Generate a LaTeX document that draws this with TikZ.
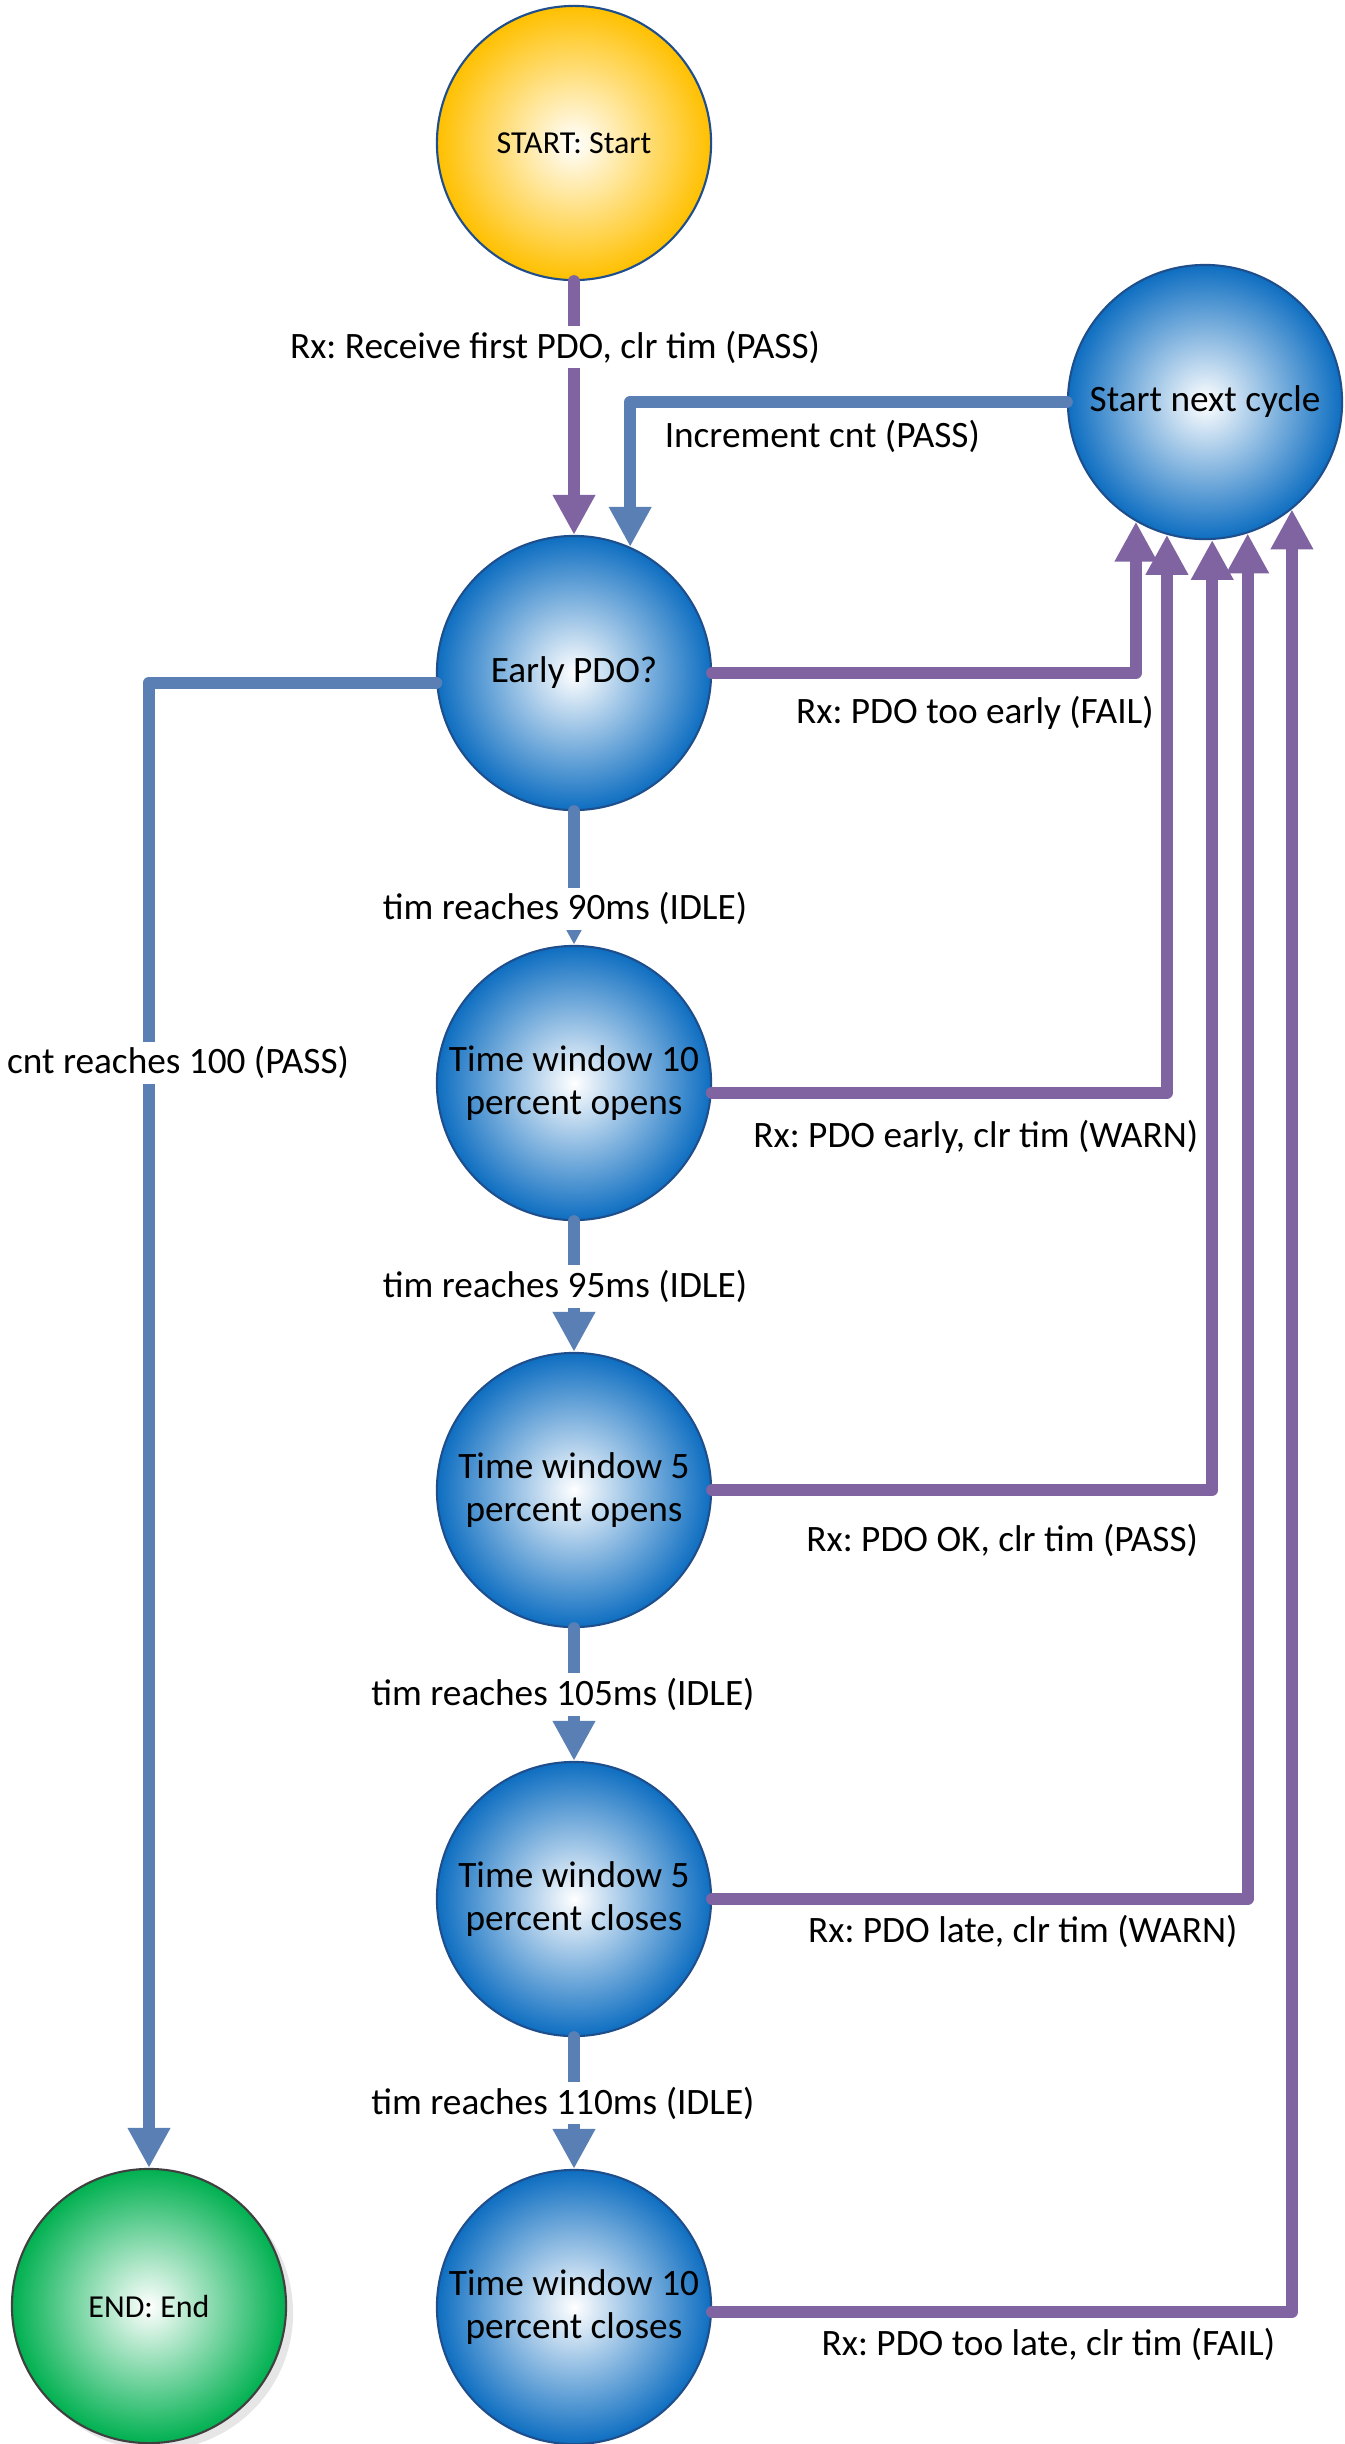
\documentclass[tikz,border=0pt]{standalone}
\usepackage{fontspec}
\setmainfont{Carlito}
\frenchspacing
\usetikzlibrary{arrows.meta,shadows}
\definecolor{ballblue}{HTML}{0E6EC1}
\definecolor{ballgold}{HTML}{FFC000}
\definecolor{ballgreen}{HTML}{00B050}
\definecolor{rimblue}{HTML}{1F4E8C}
\definecolor{linepurple}{HTML}{8064A2}
\definecolor{lineblue}{HTML}{5A7FB5}

\begin{document}
\begin{tikzpicture}[x=0.01cm, y=-0.01cm,
    every node/.style={font=\fontsize{10.6}{12.2}\selectfont},
    state/.style={circle, draw=rimblue, line width=0.6pt, minimum size=2.74cm, inner sep=0pt,
      align=center, inner color=white, outer color=ballblue},
    small/.style={font=\fontsize{9.1}{11}\selectfont},
    tip/.style={line width=0.12cm, line cap=round, line join=round,
      -{Triangle[length=0.4cm, width=0.4cm]}},
    pur/.style={tip, draw=linepurple},
    blu/.style={tip, draw=lineblue},
    lbl/.style={fill=white, inner sep=1.4pt}]
  \useasboundingbox (0,0) rectangle (1345,2444);

  % states
  \node[state, outer color=ballgold, small] (st) at (574,143) {START: Start};
  \node[state] (nc) at (1205,402) {Start next cycle};
  \node[state] (ep) at (574,673) {Early PDO?};
  \node[state] (w10o) at (574,1083) {Time window 10\\percent opens};
  \node[state] (w5o) at (574,1490) {Time window 5\\percent opens};
  \node[state] (w5c) at (574,1899) {Time window 5\\percent closes};
  \node[state] (w10c) at (574,2307) {Time window 10\\percent closes};
  \node[state, draw=black!75, outer color=ballgreen, small,
    drop shadow={opacity=0.2, shadow xshift=2pt, shadow yshift=-2pt}] (en) at (149,2306) {END: End};

  % main column
  \draw[pur] (st) -- node[lbl, pos=0.26, xshift=-0.19cm] {Rx: Receive first PDO, clr tim (PASS)} (ep);
  \draw[blu] (ep) -- node[lbl, pos=0.73, xshift=-0.09cm] {tim reaches 90ms (IDLE)} (w10o);
  \draw[blu] (w10o) -- node[lbl, xshift=-0.09cm] {tim reaches 95ms (IDLE)} (w5o);
  \draw[blu] (w5o) -- node[lbl, xshift=-0.11cm] {tim reaches 105ms (IDLE)} (w5c);
  \draw[blu] (w5c) -- node[lbl, xshift=-0.11cm] {tim reaches 110ms (IDLE)} (w10c);

  % back to start next cycle
  \draw[blu] (nc.west) -| node[lbl, pos=0.28, yshift=-0.34cm] {Increment cnt (PASS)} (ep.66);
  \draw[pur] (ep.east) -| node[lbl, pos=0.31, yshift=-0.40cm] {Rx: PDO too early (FAIL)} (nc.240);
  \draw[pur] (w10o.-4) -| node[lbl, pos=0.29, yshift=-0.44cm] {Rx: PDO early, clr tim (WARN)} (nc.254);
  \draw[pur] (w5o.east) -| node[lbl, pos=0.29, yshift=-0.50cm] {Rx: PDO OK, clr tim (PASS)} (nc.273);
  \draw[pur] (w5c.east) -| node[lbl, pos=0.29, yshift=-0.32cm] {Rx: PDO late, clr tim (WARN)} (nc.288);
  \draw[pur] (w10c.-2.5) -| node[lbl, pos=0.29, yshift=-0.33cm] {Rx: PDO too late, clr tim (FAIL)} (nc.309);

  % done
  \draw[blu] (ep.184) -| node[lbl, pos=0.628, xshift=0.29cm] {cnt reaches 100 (PASS)} (en);
\end{tikzpicture}
\end{document}
